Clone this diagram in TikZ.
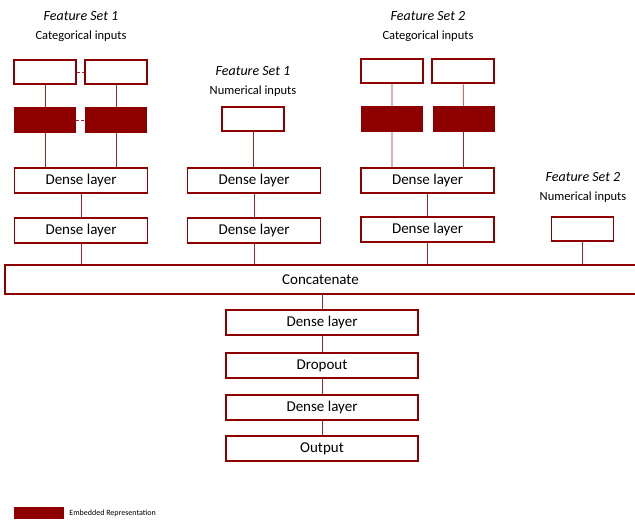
\documentclass[tikz,border=0pt]{standalone}
\usepackage{fontspec}
\setmainfont{Carlito}
\usetikzlibrary{positioning}
\definecolor{darkred}{HTML}{8E0000}

\tikzset{
    layer/.style={draw=darkred, line width=1.5pt, fill=white, minimum width=133pt, minimum height=25pt, inner sep=0pt, font=\fontsize{15}{17}\selectfont},
    inbox/.style={draw=darkred, line width=1.5pt, fill=white, minimum width=62pt, minimum height=24pt, inner sep=0pt},
    embbox/.style={fill=darkred, minimum width=62pt, minimum height=26pt, inner sep=0pt},
    link/.style={draw=darkred!85, line width=0.7pt},
    settitle/.style={font=\fontsize{14}{16}\selectfont\itshape, inner sep=0pt},
    setsub/.style={font=\fontsize{12.5}{14}\selectfont, inner sep=0pt},
}

\begin{document}
\begin{tikzpicture}[x=1pt, y=-1pt]
            \useasboundingbox (0,0) rectangle (635,523);

            % feature set 1, categorical
            \node[settitle] (t1c) at (81,16) {Feature Set 1};
            \node[setsub, below=10pt of t1c] (s1c) {Categorical inputs};
            \node[inbox] (in1a) at (45,72) {};
            \node[inbox] (in1b) at (116,72) {};
            \node[embbox] (em1a) at (45,120) {};
            \node[embbox] (em1b) at (116,120) {};
            \node[layer] (d1a) at (81,180.5) {Dense layer};
            \node[layer] (d1b) at (81,230.5) {Dense layer};

            % feature set 1, numerical
            \node[settitle] (t1n) at (253,71) {Feature Set 1};
            \node[setsub, below=10pt of t1n] (s1n) {Numerical inputs};
            \node[inbox] (num1) at (253,119) {};
            \node[layer] (d2a) at (254,180.5) {Dense layer};
            \node[layer] (d2b) at (254,230.5) {Dense layer};

            % feature set 2, categorical
            \node[settitle] (t2c) at (428,16) {Feature Set 2};
            \node[setsub, below=10pt of t2c] (s2c) {Categorical inputs};
            \node[inbox] (in2a) at (392,71) {};
            \node[inbox] (in2b) at (463,71) {};
            \node[embbox] (em2a) at (392,119) {};
            \node[embbox] (em2b) at (463.5,119) {};
            \node[layer] (d3a) at (427.5,180.5) {Dense layer};
            \node[layer] (d3b) at (427.5,229.5) {Dense layer};

            % feature set 2, numerical
            \node[settitle] (t2n) at (583,177) {Feature Set 2};
            \node[setsub, below=10pt of t2n] (s2n) {Numerical inputs};
            \node[inbox] (num2) at (582.5,229) {};

            % merged part
            \node[layer, minimum width=631pt, minimum height=29pt] (concat) at (320.5,279.5) {Concatenate};
            \node[layer, minimum width=192pt] (d4) at (322,322.5) {Dense layer};
            \node[layer, minimum width=192pt] (drop) at (322,365.5) {Dropout};
            \node[layer, minimum width=192pt] (d5) at (322,407.5) {Dense layer};
            \node[layer, minimum width=192pt] (out) at (322,448.5) {Output};

            % legend
            \node[fill=darkred, minimum width=50pt, minimum height=12pt, inner sep=0pt] (leg) at (39,513) {};
            \node[right=5pt of leg, inner sep=0pt, font=\fontsize{8}{10}\selectfont] (legtxt) {Embedded Representation};

            \draw[link, densely dashed] (in1a) -- (in1b);
            \draw[link, densely dashed] (em1a) -- (em1b);
            \draw[link] (in1a) -- (em1a) (em1a) -- (em1a |- d1a.north)
                        (in1b) -- (em1b) (em1b) -- (em1b |- d1a.north)
                        (d1a) -- (d1b) (d1b) -- (d1b |- concat.north);
            \draw[link] (num1) -- (num1 |- d2a.north)
                        (d2a) -- (d2b) (d2b) -- (d2b |- concat.north);
            \draw[link] (in2a) -- (em2a) (em2a) -- (em2a |- d3a.north)
                        (in2b) -- (em2b) (em2b) -- (em2b |- d3a.north)
                        (d3a) -- (d3b) (d3b) -- (d3b |- concat.north);
            \draw[link] (num2) -- (num2 |- concat.north);
            \draw[link] (concat.south -| d4) -- (d4) (d4) -- (drop) (drop) -- (d5) (d5) -- (out);
        \end{tikzpicture}
\end{document}
